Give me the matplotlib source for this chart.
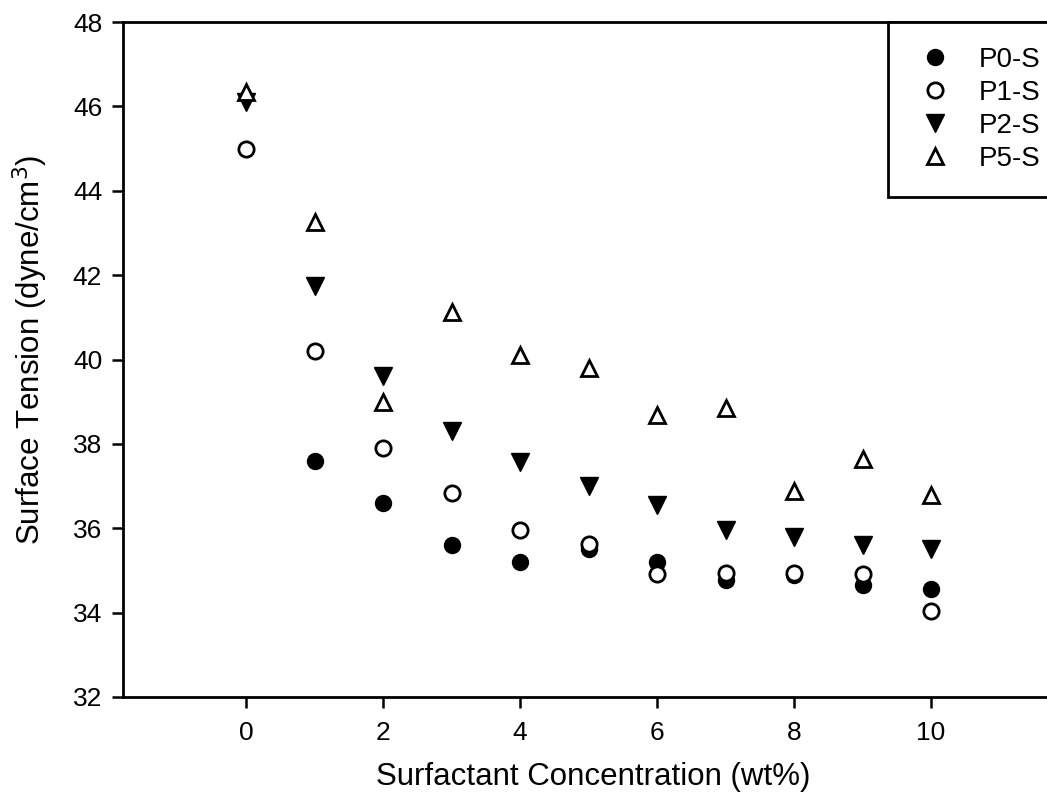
import matplotlib.pyplot as plt
import numpy as np

plt.rcParams['font.family'] = ['Liberation Sans', 'DejaVu Sans']

conc = [0, 1, 2, 3, 4, 5, 6, 7, 8, 9, 10]
conc_p0 = [1, 2, 3, 4, 5, 6, 7, 8, 9, 10]
p0_s = [37.6, 36.6, 35.6, 35.2, 35.5, 35.2, 34.78, 34.9, 34.66, 34.56]
p1_s = [45.0, 40.2, 37.9, 36.84, 35.96, 35.62, 34.92, 34.94, 34.95, 34.92, 34.03]
p2_s = [46.1, 41.75, 39.6, 38.3, 37.58, 37.0, 36.55, 35.95, 35.8, 35.6, 35.5]
p5_s = [46.35, 43.27, 39.0, 41.13, 40.1, 39.8, 38.68, 38.85, 36.88, 37.65, 36.8]

fig = plt.figure(figsize=(10.47, 8.01), dpi=100)
ax = fig.add_axes([123/1047, 1 - 697/801, 945/1047, 675/801])

ax.plot(conc_p0, p0_s, 'o', ms=11, mfc='black', mec='black', mew=1.5, label='P0-S')
ax.plot(conc, p1_s, 'o', ms=11, mfc='white', mec='black', mew=2.0, label='P1-S')
ax.plot(conc, p2_s, 'v', ms=12.5, mfc='black', mec='black', mew=1.0, label='P2-S')
ax.plot(conc, p5_s, '^', ms=12, mfc='white', mec='black', mew=2.0, label='P5-S')

ax.set_xlim(-1.8, 12)
ax.set_ylim(32, 48)
ax.set_xticks(np.arange(0, 11, 2))
ax.set_yticks(np.arange(32, 49, 2))
for s in ax.spines.values():
    s.set_linewidth(2)
ax.spines['right'].set_visible(False)
ax.tick_params(direction='out', length=8, width=1.8, labelsize=19, pad=7)
ax.tick_params(axis='x', pad=9)

ax.set_xlabel('Surfactant Concentration (wt%)', fontsize=22.5)
ax.set_ylabel('Surface Tension (dyne/cm$^3$)', fontsize=22.5)
ax.xaxis.set_label_coords((593 - 123) / 945, -0.096)
ax.yaxis.set_label_coords(-0.077, 0.514)

leg = fig.legend(loc='upper left', bbox_to_anchor=(888/1047, 1 - 22/801),
                 fontsize=20, frameon=True, fancybox=False, framealpha=1,
                 edgecolor='black', handletextpad=0.75, borderpad=0.9,
                 labelspacing=0.25, handlelength=1.6, borderaxespad=0)
leg.get_frame().set_linewidth(2)

fig.savefig('out.png', dpi=100)
